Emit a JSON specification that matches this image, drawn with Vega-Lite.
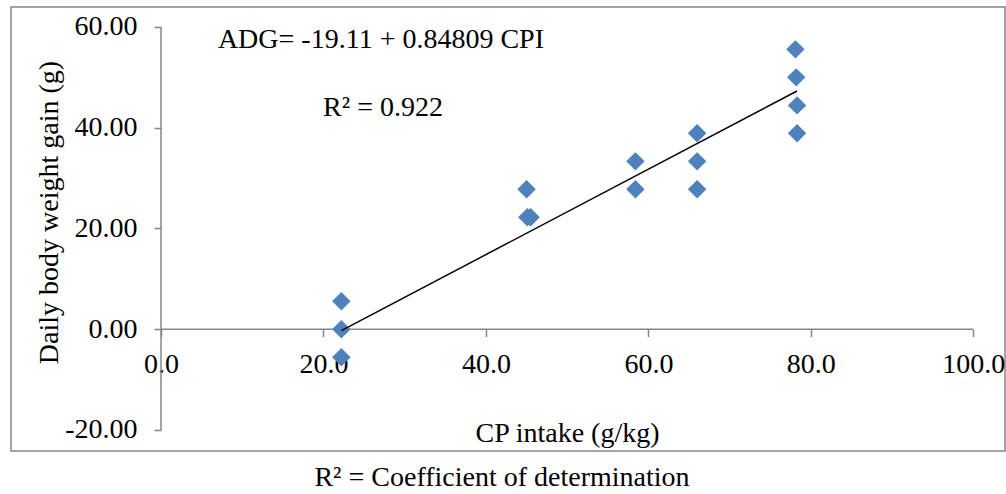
{
  "$schema": "https://vega.github.io/schema/vega-lite/v6.json",
  "width": 994,
  "height": 444,
  "autosize": {"type": "none"},
  "padding": {"left": 11, "top": 7, "right": 1, "bottom": 43},
  "background": "white",
  "config": {
    "view": {"stroke": "#868686", "strokeWidth": 1.5},
    "font": "Liberation Serif"
  },
  "title": {
    "text": "R² = Coefficient of determination",
    "orient": "bottom",
    "anchor": "middle",
    "font": "Liberation Serif",
    "fontSize": 28,
    "fontWeight": "normal",
    "color": "black",
    "offset": 13,
    "dx": -6
  },
  "layer": [
    {
      "data": {"values": [{"x": 0, "x2": 100, "y": 0}]},
      "mark": {"type": "rule", "color": "#868686", "strokeWidth": 1.5},
      "encoding": {
        "x": {"field": "x", "type": "quantitative", "scale": {"domain": [-18.47, 103.9], "nice": false, "zero": false},
          "axis": {
            "orient": "bottom", "offset": -121.5, "domain": false, "grid": false,
            "values": [0, 20, 40, 60, 80, 100],
            "labelExpr": "format(datum.value, '.1f')",
            "tickColor": "#868686", "tickWidth": 1.5, "tickSize": 7,
            "labelFont": "Liberation Serif", "labelFontSize": 28, "labelColor": "black", "labelPadding": 14,
            "labelFlush": false, "labelOverlap": false,
            "title": "CP intake (g/kg)", "titleFont": "Liberation Serif", "titleFontSize": 28, "titleFontWeight": "normal",
            "titleColor": "black", "titleX": 556, "titleY": 104, "titleBaseline": "middle", "titleAnchor": "middle"
          }},
        "x2": {"field": "x2"},
        "y": {"field": "y", "type": "quantitative", "scale": {"domain": [-24.17, 63.97], "nice": false, "zero": false},
          "axis": {
            "orient": "left", "offset": -150, "domain": false, "grid": false,
            "values": [-20, 0, 20, 40, 60],
            "labelExpr": "replace(format(datum.value, '.2f'), '\u2212', '-')",
            "tickColor": "#868686", "tickWidth": 1.5, "tickSize": 7,
            "labelFont": "Liberation Serif", "labelFontSize": 28, "labelColor": "black", "labelPadding": 17,
            "labelFlush": false, "labelOverlap": false,
            "title": "Daily body weight gain (g)", "titleFont": "Liberation Serif", "titleFontSize": 28, "titleFontWeight": "normal",
            "titleColor": "black", "titleX": -112, "titleY": 205, "titleBaseline": "middle", "titleAnchor": "middle", "titleAngle": 270
          }}
      }
    },
    {
      "data": {"values": [{"x": 0, "y": -20, "y2": 60}]},
      "mark": {"type": "rule", "color": "#868686", "strokeWidth": 1.5},
      "encoding": {
        "x": {"field": "x", "type": "quantitative"},
        "y": {"field": "y", "type": "quantitative"},
        "y2": {"field": "y2"}
      }
    },
    {
      "data": {"values": [
        {"cpi": 22.2, "adg": 5.56},
        {"cpi": 22.2, "adg": 0},
        {"cpi": 22.2, "adg": -5.56},
        {"cpi": 45.0, "adg": 27.78},
        {"cpi": 45.1, "adg": 22.22},
        {"cpi": 45.5, "adg": 22.22},
        {"cpi": 58.4, "adg": 33.33},
        {"cpi": 58.4, "adg": 27.78},
        {"cpi": 66.0, "adg": 38.89},
        {"cpi": 66.0, "adg": 33.33},
        {"cpi": 66.0, "adg": 27.78},
        {"cpi": 78.1, "adg": 55.56},
        {"cpi": 78.2, "adg": 50.0},
        {"cpi": 78.3, "adg": 44.44},
        {"cpi": 78.3, "adg": 38.89}
      ]},
      "mark": {"type": "point", "shape": "diamond", "filled": true, "color": "#4F81BD", "opacity": 1, "size": 340},
      "encoding": {
        "x": {"field": "cpi", "type": "quantitative"},
        "y": {"field": "adg", "type": "quantitative"}
      }
    },
    {
      "data": {"values": [{"cpi": 22.2, "fit": -0.28}, {"cpi": 78.3, "fit": 47.3}]},
      "mark": {"type": "line", "color": "black", "strokeWidth": 1.5},
      "encoding": {
        "x": {"field": "cpi", "type": "quantitative"},
        "y": {"field": "fit", "type": "quantitative"}
      }
    },
    {
      "data": {"values": [
        {"tx": 7.0, "ty": 57.5, "label": "ADG= -19.11 + 0.84809 CPI"},
        {"tx": 19.95, "ty": 44.0, "label": "R² = 0.922"}
      ]},
      "mark": {"type": "text", "align": "left", "baseline": "middle", "font": "Liberation Serif", "fontSize": 28, "color": "black"},
      "encoding": {
        "x": {"field": "tx", "type": "quantitative"},
        "y": {"field": "ty", "type": "quantitative"},
        "text": {"field": "label"}
      }
    }
  ]
}
